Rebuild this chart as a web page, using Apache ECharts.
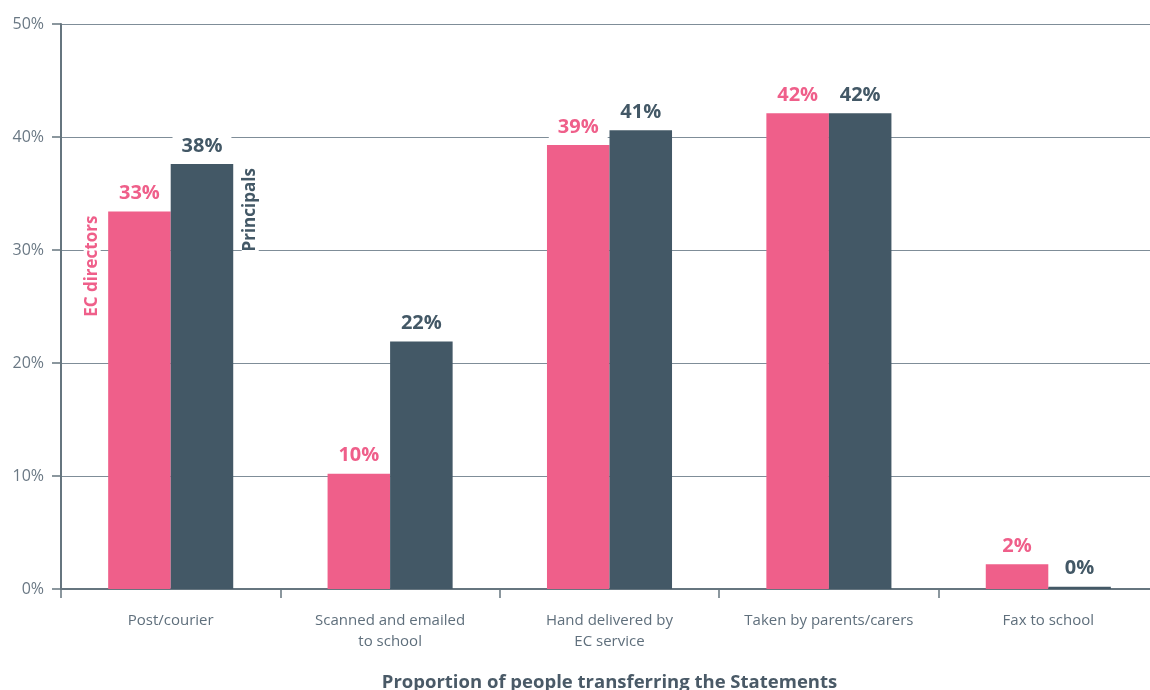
<!DOCTYPE html>
<html>
<head>
<meta charset="utf-8">
<title>Proportion of people transferring the Statements</title>
<script src="https://cdn.jsdelivr.net/npm/echarts@6/dist/echarts.min.js"></script>
<style>
  html, body { margin: 0; padding: 0; background: #ffffff; }
  #chart { width: 1150px; height: 690px; }
</style>
</head>
<body>
<div id="chart"></div>
<script>
// Transfer methods for the Statements
const categories = ['Post/courier', 'Scanned and emailed\nto school', 'Hand delivered by\nEC service', 'Taken by parents/carers', 'Fax to school'];
const seriesNames = ['EC directors', 'Principals'];
const ecDirectors = [33.4, 10.2, 39.3, 42.1, 2.2];
const principals = [37.6, 21.9, 40.6, 42.1, 0.2];
const yTicks = [0, 10, 20, 30, 40, 50];

const PINK = '#ef5f8a';
const SLATE = '#435866';
const AXIS = '#66757f';
const GRID = '#7f8d98';
const FONT = '"Open Sans", "Noto Sans", sans-serif';

const chart = echarts.init(document.getElementById('chart'), null, { renderer: 'canvas' });

function valueLabel(color) {
  return {
    show: true,
    position: 'top',
    distance: 6,
    color: color,
    fontFamily: FONT,
    fontWeight: 'bold',
    fontSize: 20,
    backgroundColor: '#ffffff',
    padding: [2, 9, 2, 9],
    formatter: p => Math.round(p.value) + '%'
  };
}

chart.setOption({
  animation: false,
  backgroundColor: '#ffffff',
  // the plot runs slightly past the right edge of the canvas
  grid: { left: 61, right: -8, top: 24, bottom: 101, containLabel: false, outerBoundsMode: 'none' },
  xAxis: {
    type: 'category',
    data: categories,
    name: 'Proportion of people transferring the Statements',
    nameLocation: 'middle',
    nameGap: 84,
    nameTextStyle: { color: '#4a5a67', fontFamily: FONT, fontWeight: 'bold', fontSize: 18.5 },
    axisLine: { show: true, lineStyle: { color: AXIS, width: 2 } },
    axisTick: { show: true, alignWithLabel: false, length: 9, lineStyle: { color: AXIS, width: 1.5 } },
    axisLabel: {
      color: '#5f6f7c', fontFamily: FONT, fontSize: 15, margin: 21, lineHeight: 21, interval: 0
    },
    splitLine: { show: false }
  },
  yAxis: {
    type: 'value',
    min: 0,
    max: 50,
    interval: 10,
    axisLine: { show: true, lineStyle: { color: AXIS, width: 2 } },
    axisTick: { show: true, length: 9, lineStyle: { color: AXIS, width: 1.5 } },
    axisLabel: {
      color: '#6a7884', fontFamily: FONT, fontSize: 16, margin: 17,
      formatter: v => (yTicks.indexOf(v) >= 0 ? v + '%' : '')
    },
    splitLine: { show: true, lineStyle: { color: GRID, width: 1.2 } }
  },
  series: [
    {
      name: seriesNames[0],
      type: 'bar',
      data: ecDirectors,
      barGap: '0%',
      barCategoryGap: '43%',
      itemStyle: { color: PINK },
      label: valueLabel(PINK),
      z: 3
    },
    {
      name: seriesNames[1],
      type: 'bar',
      data: principals,
      barGap: '0%',
      barCategoryGap: '43%',
      itemStyle: { color: SLATE },
      label: valueLabel(SLATE),
      z: 3
    }
  ]
});

// Series names written vertically beside the first pair of bars
function barRect(seriesIndex, dataIndex) {
  const data = chart.getModel().getSeriesByIndex(seriesIndex).getData();
  const l = data.getItemLayout(dataIndex);
  return {
    left: Math.min(l.x, l.x + l.width),
    right: Math.max(l.x, l.x + l.width),
    top: Math.min(l.y, l.y + l.height)
  };
}

const pinkBar = barRect(0, 0);
const slateBar = barRect(1, 0);

chart.setOption({
  graphic: [
    {
      type: 'text',
      x: pinkBar.left - 16,
      y: pinkBar.top,
      rotation: Math.PI / 2,
      z: 10,
      style: {
        text: seriesNames[0],
        fill: PINK,
        font: 'bold 17px ' + FONT,
        align: 'right',
        verticalAlign: 'middle',
        backgroundColor: '#ffffff',
        padding: [0, 4, 0, 4]
      }
    },
    {
      type: 'text',
      x: slateBar.right + 17,
      y: slateBar.top,
      rotation: Math.PI / 2,
      z: 10,
      style: {
        text: seriesNames[1],
        fill: SLATE,
        font: 'bold 17px ' + FONT,
        align: 'right',
        verticalAlign: 'middle',
        backgroundColor: '#ffffff',
        padding: [0, 4, 0, 4]
      }
    }
  ]
});
</script>
</body>
</html>
